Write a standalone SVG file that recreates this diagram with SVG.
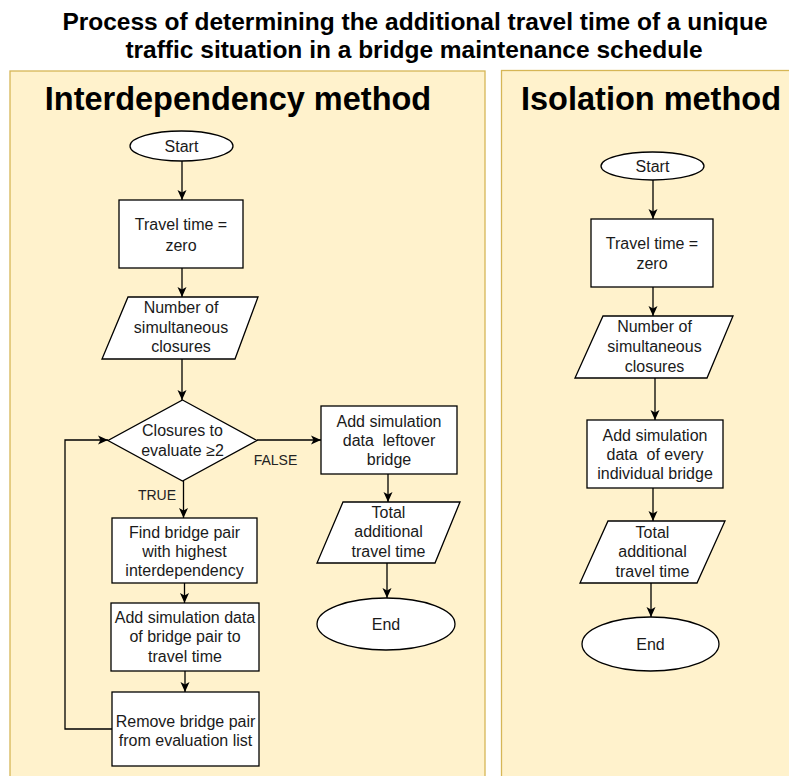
<svg xmlns="http://www.w3.org/2000/svg" width="789" height="776" viewBox="0 0 789 776">
  <defs>
    <marker id="arrow" viewBox="0 0 10 10" refX="10" refY="5" markerWidth="10" markerHeight="10" markerUnits="userSpaceOnUse" orient="auto">
      <path d="M0,0.5 L10,5 L0,9.5 L2.5,5 z" fill="#000"/>
    </marker>
  </defs>
  <style>
    .panel { fill: #fff2cc; stroke: #d6b656; stroke-width: 1.3; }
    .shape { fill: #fff; stroke: #000; stroke-width: 1.3; }
    .t { font-family: "Liberation Sans", Arial, sans-serif; font-size: 16px; fill: #1a1a1a; text-anchor: middle; white-space: pre; }
    .lbl { font-family: "Liberation Sans", Arial, sans-serif; font-size: 14px; fill: #222; text-anchor: middle; }
    .head { font-family: "Liberation Sans", Arial, sans-serif; font-size: 32.5px; font-weight: bold; fill: #000; text-anchor: middle; }
    .title { font-family: "Liberation Sans", Arial, sans-serif; font-size: 24.5px; font-weight: bold; fill: #000; text-anchor: middle; }
    .edge { fill: none; stroke: #000; stroke-width: 1.3; marker-end: url(#arrow); }
  </style>

  <rect width="789" height="776" fill="#fff"/>

  <!-- title -->
  <g id="title">
    <text class="title" x="415" y="30">Process of determining the additional travel time of a unique</text>
    <text class="title" x="414" y="58">traffic situation in a bridge maintenance schedule</text>
  </g>

  <!-- swimlane panels -->
  <g id="panel-interdependency">
    <rect class="panel" x="10" y="71" width="475" height="730"/>
    <text class="head" x="238" y="110">Interdependency method</text>
  </g>
  <g id="panel-isolation">
    <rect class="panel" x="501.5" y="70.5" width="300" height="730"/>
    <text class="head" x="651" y="110">Isolation method</text>
  </g>

  <!-- connectors -->
  <g id="connectors">
    <path class="edge" d="M182,161 L182,200"/>
    <path class="edge" d="M182,268 L182,297"/>
    <path class="edge" d="M182,359 L182,400"/>
    <path class="edge" d="M183.5,481 L183.5,518"/>
    <path class="edge" d="M184.5,583 L184.5,603"/>
    <path class="edge" d="M185,671 L185,692"/>
    <path class="edge" d="M112,729 L65,729 L65,440 L108,440"/>
    <path class="edge" d="M257,440 L321,440"/>
    <path class="edge" d="M388,474 L388,502"/>
    <path class="edge" d="M387,563 L387,598"/>
    <path class="edge" d="M653,180 L653,219"/>
    <path class="edge" d="M653,287 L653,316"/>
    <path class="edge" d="M655,378 L655,420"/>
    <path class="edge" d="M653,488 L653,521"/>
    <path class="edge" d="M651,583 L651,617"/>
    <text class="lbl" x="275.5" y="465">FALSE</text>
    <text class="lbl" x="157" y="500">TRUE</text>
  </g>

  <!-- interdependency method nodes -->
  <g id="i-start">
    <ellipse class="shape" cx="181.5" cy="146" rx="51.5" ry="15"/>
    <text class="t" x="181.5" y="152">Start</text>
  </g>
  <g id="i-init">
    <rect class="shape" x="119" y="200" width="124" height="68"/>
    <text class="t" x="181" y="230">Travel time =</text>
    <text class="t" x="181" y="251">zero</text>
  </g>
  <g id="i-input">
    <polygon class="shape" points="128,297 258,297 235,359 102,359"/>
    <text class="t" x="181" y="313">Number of</text>
    <text class="t" x="181" y="333">simultaneous</text>
    <text class="t" x="181" y="352">closures</text>
  </g>
  <g id="i-decision">
    <polygon class="shape" points="182.5,400 257,440.5 182.5,481 108,440.5"/>
    <text class="t" x="182.5" y="436">Closures to</text>
    <text class="t" x="182.5" y="456">evaluate ≥2</text>
  </g>
  <g id="i-leftover">
    <rect class="shape" x="321" y="406" width="136" height="68"/>
    <text class="t" x="389" y="427">Add simulation</text>
    <text class="t" x="389" y="446" xml:space="preserve">data  leftover</text>
    <text class="t" x="389" y="465">bridge</text>
  </g>
  <g id="i-total">
    <polygon class="shape" points="343,502 460,502 435,563 317,563"/>
    <text class="t" x="388.5" y="518">Total</text>
    <text class="t" x="388.5" y="537">additional</text>
    <text class="t" x="388.5" y="557">travel time</text>
  </g>
  <g id="i-end">
    <ellipse class="shape" cx="386" cy="624" rx="69" ry="26"/>
    <text class="t" x="386" y="630">End</text>
  </g>
  <g id="i-find">
    <rect class="shape" x="112" y="518" width="145" height="65"/>
    <text class="t" x="184.5" y="538">Find bridge pair</text>
    <text class="t" x="184.5" y="557">with highest</text>
    <text class="t" x="184.5" y="576">interdependency</text>
  </g>
  <g id="i-add">
    <rect class="shape" x="111" y="603" width="148" height="68"/>
    <text class="t" x="185" y="623">Add simulation data</text>
    <text class="t" x="185" y="642">of bridge pair to</text>
    <text class="t" x="185" y="662">travel time</text>
  </g>
  <g id="i-remove">
    <rect class="shape" x="112" y="692" width="147" height="74"/>
    <text class="t" x="185.5" y="727">Remove bridge pair</text>
    <text class="t" x="185.5" y="746">from evaluation list</text>
  </g>

  <!-- isolation method nodes -->
  <g id="s-start">
    <ellipse class="shape" cx="652.5" cy="166" rx="51.5" ry="14"/>
    <text class="t" x="652.5" y="172">Start</text>
  </g>
  <g id="s-init">
    <rect class="shape" x="591" y="219" width="122" height="68"/>
    <text class="t" x="652" y="249">Travel time =</text>
    <text class="t" x="652" y="269">zero</text>
  </g>
  <g id="s-input">
    <polygon class="shape" points="603,316 733,316 707,378 575,378"/>
    <text class="t" x="654.5" y="332">Number of</text>
    <text class="t" x="654.5" y="352">simultaneous</text>
    <text class="t" x="654.5" y="372">closures</text>
  </g>
  <g id="s-add">
    <rect class="shape" x="587" y="420" width="136" height="68"/>
    <text class="t" x="655" y="441">Add simulation</text>
    <text class="t" x="655" y="460" xml:space="preserve">data  of every</text>
    <text class="t" x="655" y="479">individual bridge</text>
  </g>
  <g id="s-total">
    <polygon class="shape" points="608,521 725,521 697,583 580,583"/>
    <text class="t" x="652.5" y="538">Total</text>
    <text class="t" x="652.5" y="557">additional</text>
    <text class="t" x="652.5" y="577">travel time</text>
  </g>
  <g id="s-end">
    <ellipse class="shape" cx="650.5" cy="644" rx="68.5" ry="27"/>
    <text class="t" x="650.5" y="650">End</text>
  </g>
</svg>
